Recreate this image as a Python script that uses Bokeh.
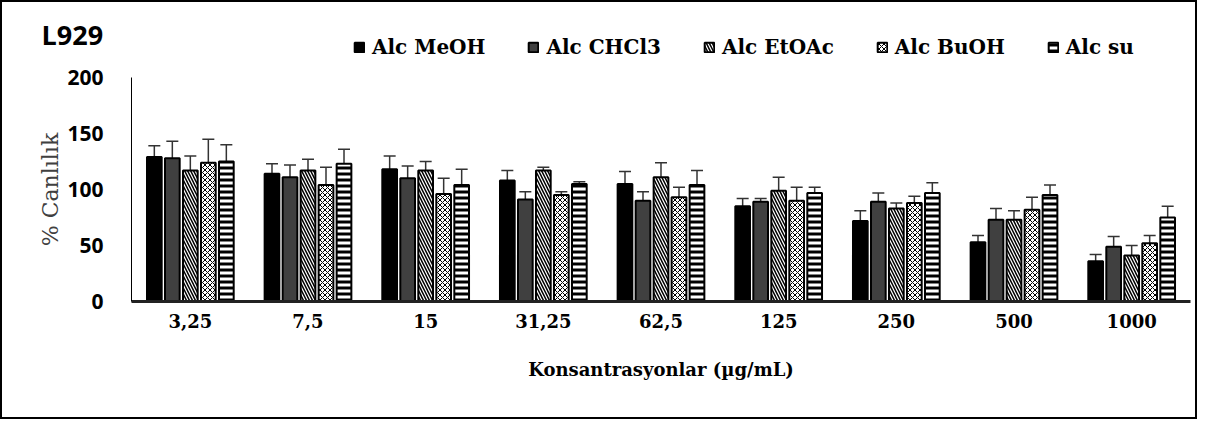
import math
from bokeh.plotting import figure
from bokeh.models import (ColumnDataSource, Range1d, FixedTicker, Whisker,
                          TeeHead, Legend, LegendItem, Label)
from bokeh.transform import dodge
from bokeh.embed import file_html
from bokeh.resources import INLINE

conc = ["3,25", "7,5", "15", "31,25", "62,5", "125", "250", "500", "1000"]
series = ["Alc MeOH", "Alc CHCl3", "Alc EtOAc", "Alc BuOH", "Alc su"]
meoh = [129, 114, 118, 108, 105, 85, 72, 53, 36]
meoh_err = [10, 9, 12, 9, 11, 7, 9, 6, 6]
chcl3 = [128, 111, 110, 91, 90, 89, 89, 73, 49]
chcl3_err = [15, 11, 11, 7, 8, 3, 8, 10, 9]
etoac = [117, 117, 117, 117, 111, 99, 83, 73, 41]
etoac_err = [13, 10, 8, 3, 13, 12, 5, 8, 9]
buoh = [124, 104, 96, 95, 93, 90, 88, 82, 52]
buoh_err = [21, 16, 14, 3, 9, 12, 6, 11, 7]
su = [125, 123, 104, 105, 104, 97, 97, 95, 75]
su_err = [15, 13, 14, 2, 13, 5, 9, 9, 10]
y_ticks = [0, 50, 100, 150, 200]

values = [meoh, chcl3, etoac, buoh, su]
errors = [meoh_err, chcl3_err, etoac_err, buoh_err, su_err]
centers = [i + 0.5 for i in range(len(conc))]

styles = [
    dict(fill_color="black"),
    dict(fill_color="#404040"),
    dict(fill_color="white", hatch_pattern="\\", hatch_color="black", hatch_scale=6, hatch_weight=1.5),
    dict(fill_color="white", hatch_pattern="x", hatch_color="black", hatch_scale=5, hatch_weight=1),
    dict(fill_color="white", hatch_pattern="-", hatch_color="black", hatch_scale=6, hatch_weight=3),
]

W, H = 1197, 419
# the frame covers the whole canvas; the axes are drawn at fixed locations with bounds
p = figure(width=W, height=H, x_range=Range1d(-1.0963, 9.0765),
           y_range=Range1d(-107.14, 267), output_backend="svg", toolbar_location=None,
           min_border_left=0, min_border_right=0, min_border_top=0, min_border_bottom=0,
           styles={"border": "2px solid black"})
p.outline_line_color = None
p.xgrid.visible = False
p.ygrid.visible = False
p.background_fill_color = "white"
p.border_fill_color = "white"

offsets = [-0.306, -0.153, 0.0, 0.153, 0.306]
items = []
for name, vals, errs, st, off in zip(series, values, errors, styles, offsets):
    src = ColumnDataSource(dict(x=centers, c=conc, v=vals,
                                up=[a + b for a, b in zip(vals, errs)],
                                lo=[a - b for a, b in zip(vals, errs)]))
    r = p.vbar(x=dodge("x", off), top="v", width=0.125, source=src,
               line_color="black", line_width=2, **st)
    items.append(LegendItem(label=name, renderers=[r]))
    w = Whisker(base=dodge("x", off), upper="up", lower="lo", source=src,
                line_color="#333333", line_width=1.5,
                upper_head=TeeHead(size=12, line_color="#333333", line_width=1.5),
                lower_head=None)
    p.add_layout(w)

legend = Legend(items=items, orientation="horizontal", location=(351, 362),
                glyph_width=12, glyph_height=12, label_standoff=7, spacing=42,
                padding=0, margin=0, border_line_color=None, background_fill_alpha=0,
                label_text_font="DejaVu Serif", label_text_font_style="bold",
                label_text_font_size="20px", label_text_color="black")
p.add_layout(legend)

p.yaxis.fixed_location = 0
p.yaxis.bounds = (0, 200)
p.yaxis.ticker = FixedTicker(ticks=y_ticks)
p.yaxis.major_tick_line_color = None
p.yaxis.minor_tick_line_color = None
p.yaxis.axis_line_color = "black"
p.yaxis.axis_line_width = 1
p.yaxis.major_label_text_font = "Open Sans"
p.yaxis.major_label_text_font_style = "bold"
p.yaxis.major_label_text_font_size = "21px"
p.yaxis.major_label_text_color = "black"
p.yaxis.major_label_standoff = 22

p.xaxis.fixed_location = 0
p.xaxis.bounds = (0, len(conc))
p.xaxis.ticker = FixedTicker(ticks=centers)
p.xaxis.major_label_overrides = {c: t for c, t in zip(centers, conc)}
p.xaxis.major_tick_line_color = None
p.xaxis.minor_tick_line_color = None
p.xaxis.axis_line_color = "#222222"
p.xaxis.axis_line_width = 3
p.xaxis.major_label_text_font = "DejaVu Serif"
p.xaxis.major_label_text_font_style = "bold"
p.xaxis.major_label_text_font_size = "18px"
p.xaxis.major_label_text_color = "black"
p.xaxis.major_label_standoff = 6

xlabel = Label(x=len(conc) / 2, y=52, x_units="data", y_units="screen",
               text="Konsantrasyonlar (µg/mL)", text_font="DejaVu Serif",
               text_font_style="bold", text_font_size="18px", text_color="black",
               text_align="center", text_baseline="middle")
p.add_layout(xlabel)

ylabel = Label(x=48, y=100, x_units="screen", y_units="data", text="% Canlılık",
               text_font="DejaVu Serif", text_font_size="22px", text_color="#404040",
               text_align="center", text_baseline="middle", angle=math.pi / 2)
p.add_layout(ylabel)

title = Label(x=39, y=387, x_units="screen", y_units="screen", text="L929",
              text_font="Open Sans", text_font_style="bold", text_font_size="27px",
              text_color="black", text_baseline="middle")
p.add_layout(title)

open("out.html", "w").write(file_html(p, INLINE))
